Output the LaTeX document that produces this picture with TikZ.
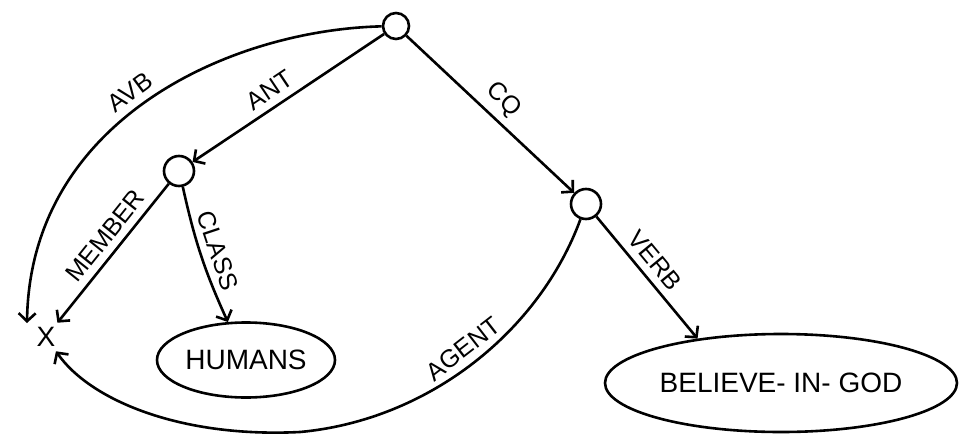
\documentclass[tikz,border=0pt]{standalone}
\usepackage{fontspec}
\setmainfont{Liberation Sans}
\usetikzlibrary{arrows.meta,shapes.geometric}
\begin{document}
\begin{tikzpicture}[x=1pt, y=-1pt, line width=2.6pt,
        every node/.style={font=\fontsize{28}{28}\selectfont},
        pt/.style={draw, circle, inner sep=0pt},
        blob/.style={draw, ellipse, inner sep=0pt},
        arr/.style={-{Straight Barb[length=8pt,width=17pt]}},
        lab/.style={font=\fontsize{25}{25}\selectfont, sloped, above=4pt}]
            \useasboundingbox (0,0) rectangle (960,436);

            \node[pt, minimum size=26pt] (root) at (396,26) {};
            \node[pt, minimum size=30pt] (ante) at (179,171) {};
            \node[pt, minimum size=30pt] (cons) at (586,204) {};
            \node (x) at (46,337) {X};
            \node[blob, minimum width=178pt, minimum height=75pt] (hum) at (246,360) {HUMANS};
            \node[blob, minimum width=352pt, minimum height=98pt] (god) at (781,383) {BELIEVE- IN- GOD};
            \coordinate (avbtip) at (27,323);

            \draw[arr] (root) .. controls (230,30) and (30,120) .. (avbtip) node[lab, pos=0.52] {AVB};
            \draw[arr] (root) -- (ante) node[lab, pos=0.55] {ANT};
            \draw[arr] (root) -- (cons) node[lab, pos=0.5] {CQ};
            \draw[arr] (ante) -- (x) node[lab, pos=0.45] {MEMBER};
            \draw[arr] (ante) to[bend right=6] node[lab] {CLASS} (hum);
            \draw[arr] (cons) -- (god.152) node[lab, pos=0.45] {VERB};
            \draw[arr] (cons) .. controls (540,330) and (430,420) .. (300,432) node[lab, pos=0.5] {AGENT}
                .. controls (180,438) and (90,400) .. (x);
        \end{tikzpicture}
\end{document}
